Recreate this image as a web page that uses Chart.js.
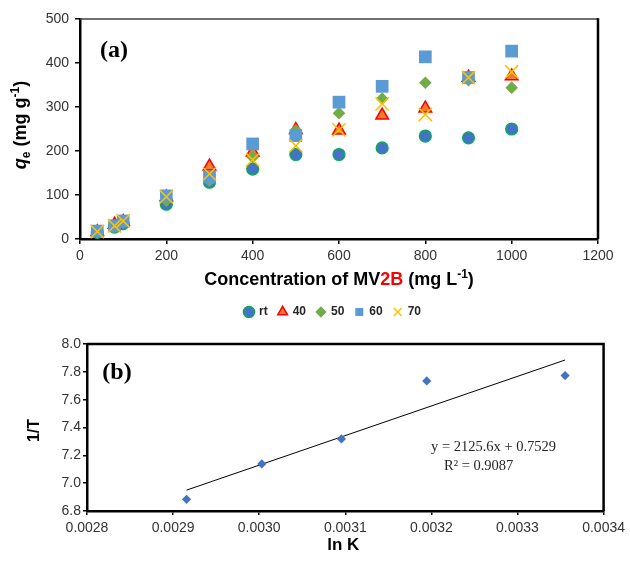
<!DOCTYPE html>
<html>
<head>
<meta charset="utf-8">
<script src="https://cdn.jsdelivr.net/npm/chart.js@4.4.1/dist/chart.umd.min.js"></script>
<style>
  body { margin: 0; background: #fff; }
  canvas { position: absolute; left: 0; }
  #chartA { top: 0; }
  #chartB { top: 330px; }
</style>
</head>
<body>
<canvas id="chartA" width="630" height="330"></canvas>
<canvas id="chartB" width="630" height="232"></canvas>
<script>
// ---------- données (a) : isothermes ----------
const concentration = [40, 80, 100, 200, 300, 400, 500, 600, 700, 800, 900, 1000];
const qeRT = [15, 27, 35, 79, 129, 159, 192, 192, 207, 234, 230, 250];
const qe40 = [16, 33, 39, 95, 165, 197, 248, 247, 281, 297, 367, 370];
const qe50 = [15, 28, 37, 87, 132, 186, 247, 286, 319, 355, 361, 344];
const qe60 = [18, 30, 41, 98, 141, 216, 235, 311, 347, 414, 367, 427];
const qe70 = [17, 30, 41, 96, 148, 180, 212, 248, 307, 283, 367, 380];

// ---------- données (b) : van't Hoff ----------
const invT = [0.0029156, 0.0030030, 0.0030955, 0.0031946, 0.0033553];
const lnK = [6.884, 7.138, 7.318, 7.735, 7.773];
const trendX = [0.0029156, 0.0033553];
const trendY = [6.95, 7.885];
const equationText = 'y = 2125.6x + 0.7529';
const r2Text = 'R\u00B2 = 0.9087';

const SANS = '"Liberation Sans", Arial, sans-serif';
const SERIF = '"Liberation Serif", "Times New Roman", serif';
const TICK_COLOR = '#333';

const pts = (xs, ys) => xs.map((x, i) => ({ x, y: ys[i] }));

// texte riche (indices, exposants, couleurs)
function drawRich(ctx, parts, cx, cy, rotated) {
  ctx.save();
  ctx.translate(cx, cy);
  if (rotated) ctx.rotate(-Math.PI / 2);
  let total = 0;
  parts.forEach(p => { ctx.font = p.font; p.w = ctx.measureText(p.text).width; total += p.w; });
  let x = -total / 2;
  ctx.textAlign = 'left';
  ctx.textBaseline = 'alphabetic';
  parts.forEach(p => {
    ctx.font = p.font;
    ctx.fillStyle = p.color || '#000';
    ctx.fillText(p.text, x, p.dy || 0);
    x += p.w;
  });
  ctx.restore();
}

function axisStyle(min, max, step, fmt) {
  return {
    type: 'linear', min, max,
    ticks: { stepSize: step, color: TICK_COLOR, font: { family: SANS, size: 14 }, padding: 4, callback: fmt },
    grid: { drawOnChartArea: false, drawTicks: true, tickLength: 5, color: '#000', lineWidth: 1.5 },
    border: { display: true, color: '#000', width: 2.5 }
  };
}

// ---------- graphique (a) ----------
const frameA = {
  id: 'frameA',
  afterDraw(chart) {
    const { ctx, chartArea: a } = chart;
    ctx.save();
    ctx.strokeStyle = '#404040'; ctx.lineWidth = 1.6;
    ctx.beginPath(); ctx.moveTo(a.left, a.top); ctx.lineTo(a.right, a.top); ctx.stroke();
    ctx.strokeStyle = '#000'; ctx.lineWidth = 2.5;
    ctx.beginPath(); ctx.moveTo(a.right, a.top - 0.8); ctx.lineTo(a.right, a.bottom); ctx.stroke();

    ctx.font = 'bold 24px ' + SERIF; ctx.fillStyle = '#000'; ctx.textAlign = 'center'; ctx.textBaseline = 'alphabetic';
    ctx.fillText('(a)', a.left + 34, a.top + 38);
    ctx.restore();

    const big = 'bold 18px ' + SANS, small = 'bold 12px ' + SANS;
    drawRich(ctx, [
      { text: 'q', font: 'italic bold 18px ' + SANS },
      { text: 'e', font: small, dy: 4 },
      { text: ' (mg g', font: big },
      { text: '-1', font: small, dy: -7 },
      { text: ')', font: big }
    ], 26, (a.top + a.bottom) / 2 - 4, true);
    drawRich(ctx, [
      { text: 'Concentration of MV', font: big },
      { text: '2B', font: big, color: '#FF0000' },
      { text: ' (mg L', font: big },
      { text: '-1', font: small, dy: -7 },
      { text: ')', font: big }
    ], (a.left + a.right) / 2, 285, false);
  }
};

const xA = axisStyle(0, 1200, 200);
xA.afterFit = s => { s.height = 56; };
const yA = axisStyle(0, 500, 100);
yA.ticks.padding = 6;
yA.afterFit = s => { s.width = 44; };
// axe fantôme à droite : sert seulement à centrer la légende comme dans l'original
const yRight = {
  type: 'linear', position: 'right', display: true,
  ticks: { display: false }, grid: { display: false }, border: { display: false },
  afterFit: s => { s.width = 32; }
};

new Chart(document.getElementById('chartA'), {
  type: 'scatter',
  data: {
    datasets: [
      { label: 'rt', data: pts(concentration, qeRT), order: 5, pointStyle: 'circle', pointRadius: 6,
        backgroundColor: '#4472C4', borderColor: '#00B050', borderWidth: 1.2 },
      { label: '40', data: pts(concentration, qe40), order: 4, pointStyle: 'triangle', pointRadius: 7.3,
        backgroundColor: '#ED7D31', borderColor: '#FF0000', borderWidth: 1.5 },
      { label: '50', data: pts(concentration, qe50), order: 3, pointStyle: 'rectRot', pointRadius: 6.3,
        backgroundColor: '#70AD47', borderColor: '#70AD47', borderWidth: 0 },
      { label: '60', data: pts(concentration, qe60), order: 2, pointStyle: 'rect', pointRadius: 9,
        backgroundColor: '#5B9BD5', borderColor: '#5B9BD5', borderWidth: 0 },
      { label: '70', data: pts(concentration, qe70), order: 1, pointStyle: 'crossRot', pointRadius: 9.4,
        backgroundColor: '#FFC000', borderColor: '#FFC000', borderWidth: 1.5 }
    ]
  },
  options: {
    responsive: false,
    animation: false,
    layout: { padding: { left: 36, right: 0, top: 19, bottom: 2 } },
    scales: { x: xA, y: yA, yRight },
    plugins: {
      legend: {
        position: 'bottom', reverse: true,
        labels: { usePointStyle: true, boxWidth: 8, boxHeight: 8, padding: 11,
          color: '#262626', font: { family: SANS, size: 12, weight: 'bold' } }
      },
      tooltip: { enabled: false }
    }
  },
  plugins: [frameA]
});

// ---------- graphique (b) ----------
const frameB = {
  id: 'frameB',
  afterDraw(chart) {
    const { ctx, chartArea: a } = chart;
    ctx.save();
    ctx.strokeStyle = '#000'; ctx.lineWidth = 2.5;
    ctx.beginPath();
    ctx.moveTo(a.left, a.top); ctx.lineTo(a.right, a.top); ctx.lineTo(a.right, a.bottom);
    ctx.stroke();

    ctx.font = 'bold 24px ' + SERIF; ctx.fillStyle = '#000'; ctx.textAlign = 'center'; ctx.textBaseline = 'alphabetic';
    ctx.fillText('(b)', a.left + 30, a.top + 35);

    ctx.font = '14.5px ' + SERIF; ctx.fillStyle = '#262626'; ctx.textAlign = 'left';
    ctx.fillText(equationText, 431, 121);
    ctx.fillText(r2Text, 444, 140);
    ctx.restore();

    drawRich(ctx, [{ text: '1/T', font: 'bold 16px ' + SANS }], 39, (a.top + a.bottom) / 2 + 3, true);
    drawRich(ctx, [{ text: 'ln K', font: 'bold 17px ' + SANS }], (a.left + a.right) / 2 - 2, 220, false);
  }
};

const xB = axisStyle(0.0028, 0.0034, 0.0001, v => v.toFixed(4));
xB.grid.tickLength = 4;
xB.ticks.padding = 5;
xB.afterFit = s => { s.height = 51; };
const yB = axisStyle(6.8, 8.0, 0.2, v => v.toFixed(1));
yB.grid.tickLength = 4;
yB.ticks.padding = 2;
yB.afterFit = s => { s.width = 87; };

new Chart(document.getElementById('chartB'), {
  type: 'scatter',
  data: {
    datasets: [
      { label: 'data', data: pts(invT, lnK), pointStyle: 'rectRot', pointRadius: 4.6,
        backgroundColor: '#4472C4', borderColor: '#4472C4', borderWidth: 0 },
      { label: 'trend', data: pts(trendX, trendY), showLine: true, pointRadius: 0,
        borderColor: '#000', borderWidth: 1, backgroundColor: '#000' }
    ]
  },
  options: {
    responsive: false,
    animation: false,
    layout: { padding: { left: 0, right: 24, top: 14, bottom: 0 } },
    scales: { x: xB, y: yB },
    plugins: { legend: { display: false }, tooltip: { enabled: false } }
  },
  plugins: [frameB]
});
</script>
</body>
</html>
